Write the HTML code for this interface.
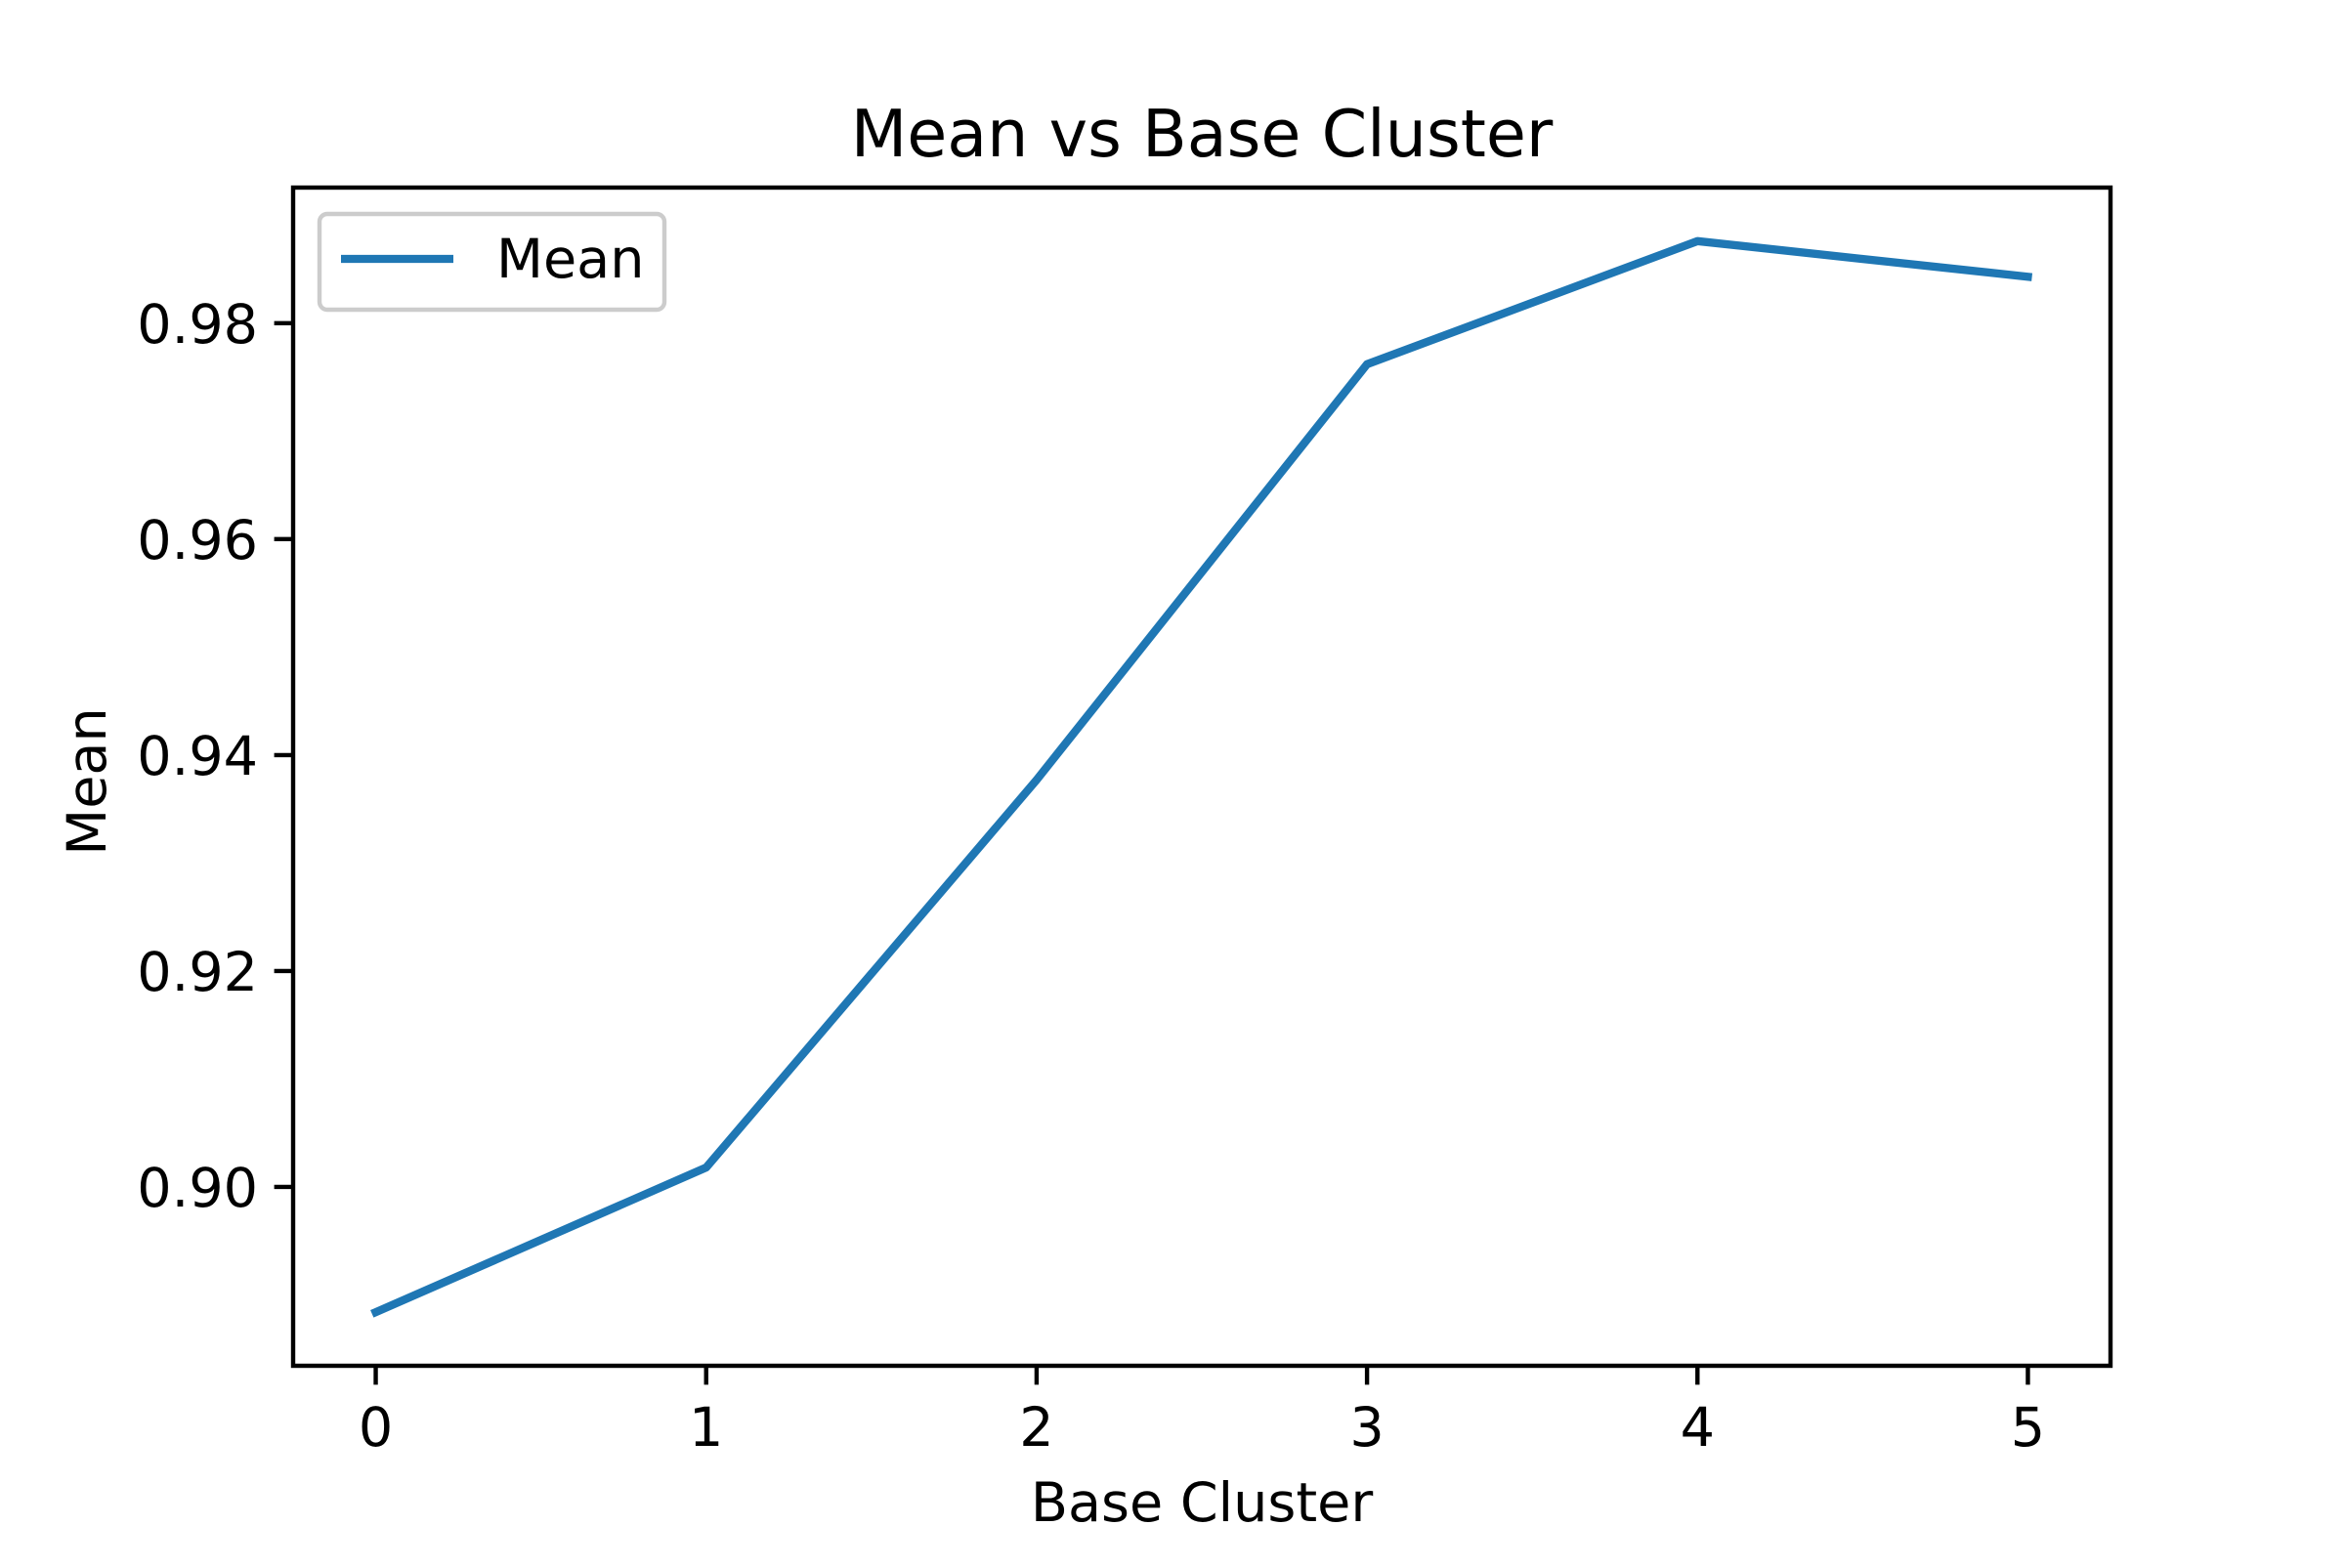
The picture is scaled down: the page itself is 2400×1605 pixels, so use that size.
<!DOCTYPE html>
<html><head><meta charset="utf-8"><style>
html,body{margin:0;padding:0;background:#fff;}
svg text{font-family:"DejaVu Sans","Liberation Sans",sans-serif;fill:#000;}
</style></head><body>
<svg id="chart" width="2400" height="1600" viewBox="0 0 2400 1600" xmlns="http://www.w3.org/2000/svg">
<rect width="2400" height="1600" fill="#fff"/>
<text x="1230" y="160" font-size="66.7" text-anchor="middle">Mean vs Base Cluster</text>
<g id="ticks"></g>
<path id="series" fill="none" stroke="#1f77b4" stroke-width="8.33" stroke-linejoin="round" stroke-linecap="square"/>
<rect x="300" y="192" width="1860" height="1206" fill="none" stroke="#000" stroke-width="4.4"/>
<text x="1230" y="1557" font-size="55.6" text-anchor="middle">Base Cluster</text>
<text x="108" y="800" font-size="55.6" text-anchor="middle" transform="rotate(-90 108 800)">Mean</text>
<g>
<rect x="327" y="219" width="353" height="98" rx="8" fill="#fff" fill-opacity="0.8" stroke="#ccc" stroke-width="4.4"/>
<line x1="349" y1="265" x2="464" y2="265" stroke="#1f77b4" stroke-width="8.33"/>
<text x="508" y="284" font-size="55.6">Mean</text>
</g>
</svg>
<script>
const categories = [0, 1, 2, 3, 4, 5];
const meanValues = [0.8884, 0.9018, 0.9377, 0.9762, 0.9876, 0.9843];
const yTicks = [0.90, 0.92, 0.94, 0.96, 0.98];
const yTickLabels = ["0.90", "0.92", "0.94", "0.96", "0.98"];

const L=300,R=2160,T=192,B=1398;
const xmin=-0.25,xmax=categories.length-1+0.25;
const dmin=Math.min(...meanValues),dmax=Math.max(...meanValues),m=(dmax-dmin)*0.05;
const ymin=dmin-m,ymax=dmax+m;
const xs=v=>L+(v-xmin)/(xmax-xmin)*(R-L);
const ys=v=>B-(v-ymin)/(ymax-ymin)*(B-T);
const NS="http://www.w3.org/2000/svg";
const g=document.getElementById('ticks');
function mk(tag,attrs,text){const e=document.createElementNS(NS,tag);for(const k in attrs)e.setAttribute(k,attrs[k]);if(text!==undefined)e.textContent=text;g.appendChild(e);return e;}
categories.forEach(c=>{
  const x=xs(c);
  const t=mk('line',{x1:x,y1:B,x2:x,y2:B+19.4,stroke:'#000','stroke-width':4.4});
  
  
  const l=mk('text',{x:x,y:B+82,'font-size':55.6,'text-anchor':'middle'},String(c));
  
  
});
yTicks.forEach((v,i)=>{
  const y=ys(v);
  const t=mk('line',{x1:L-19.4,y1:y,x2:L,y2:y,stroke:'#000','stroke-width':4.4});
  
  
  const l=mk('text',{x:L-36,y:y+20,'font-size':55.6,'text-anchor':'end'},yTickLabels[i]);
  
  
});
document.getElementById('series').setAttribute('d',categories.map((c,i)=>(i?'L':'M')+xs(c)+','+ys(meanValues[i])).join(' '));
</script>
</body></html>
